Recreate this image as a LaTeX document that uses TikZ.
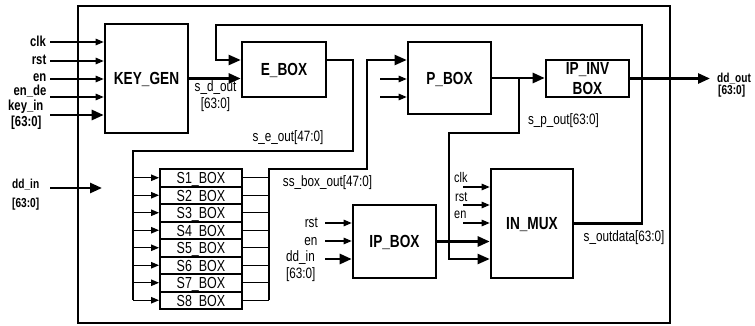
\documentclass[tikz,border=0pt]{standalone}
\usepackage{fontspec}
\setmainfont{Liberation Sans}[FakeStretch=0.78]
\usetikzlibrary{arrows.meta}
\tikzset{
  blk/.style={draw, line width=2.6pt, inner sep=0pt, font=\fontsize{17.5}{19.5}\selectfont\bfseries, text height=12.5pt, text depth=0pt},
  sbox/.style={draw, line width=2pt, minimum width=82pt, minimum height=17.5pt, inner sep=0pt, font=\fontsize{16}{18}\selectfont, text height=11.5pt, text depth=0pt},
  sarr/.style={line width=1.1pt, -{Triangle[length=8pt,width=6.5pt]}},
  tarr/.style={line width=2.6pt, -{Triangle[length=12pt,width=10pt]}},
  marr/.style={line width=2.1pt, -{Triangle[length=12pt,width=10pt]}},
  wire/.style={line width=2.1pt},
  twire/.style={line width=1.1pt},
  plbl/.style={font=\fontsize{14.5}{16}\selectfont\bfseries, inner sep=0pt},
  olbl/.style={font=\fontsize{13}{15}\selectfont\bfseries, inner sep=0pt},
  slbl/.style={font=\fontsize{15}{17}\selectfont, inner sep=0pt},
  mlbl/.style={font=\fontsize{14}{16}\selectfont, inner sep=0pt},
}
\begin{document}
\begin{tikzpicture}[x=1pt,y=-1pt]
\useasboundingbox (0,0) rectangle (755,326);
% outer frame
\node[draw, line width=2.2pt, minimum width=592pt, minimum height=317pt, inner sep=0pt] (outer) at (374,164.5) {};
% blocks
\node[blk, minimum width=83pt, minimum height=109pt] (kg) at (146.5,78.5) {KEY\_GEN};
\node[blk, minimum width=84pt, minimum height=55pt] (eb) at (284,69.5) {E\_BOX};
\node[blk, minimum width=83pt, minimum height=72pt] (pb) at (449.5,78) {P\_BOX};
\node[draw, line width=2.6pt, inner sep=0pt, minimum width=83pt, minimum height=37pt, align=center, font=\fontsize{17.5}{19.5}\selectfont\bfseries] (ipinv) at (587.5,78.5) {IP\_INV\\BOX};
\node[blk, minimum width=82pt, minimum height=109pt] (im) at (532,223.5) {IN\_MUX};
\node[blk, minimum width=83pt, minimum height=73pt] (ip) at (394.5,241.5) {IP\_BOX};
\foreach \i in {1,...,8} {
  \node[sbox] (s\i) at (201,{169+17.5*(\i-0.5)}) {S\i\_BOX};
}
% KEY_GEN inputs
\foreach \n/\y in {clk/42, rst/61, en/79, ende/97} {
  \coordinate (k\n) at (50,\y);
  \draw[sarr] (k\n) -- (k\n -| kg.west);
}
\coordinate (kkey) at (50,115);
\draw[tarr] (kkey) -- (kkey -| kg.west);
\node[plbl, anchor=base east] (lclk) at (46,46.5) {clk};
\node[plbl, anchor=base east] (lrst) at (46.5,64.5) {rst};
\node[plbl, anchor=base east] (len) at (46.5,82) {en};
\node[plbl, anchor=base east] (lende) at (46.5,95.5) {en\_de};
\node[plbl, anchor=base west] (lkey) at (8,110.5) {key\_in};
\node[plbl, anchor=base west] (lkeyb) at (11,126.5) {[63:0]};
% s_d_out
\draw[tarr] (kg.east) -- (kg.east -| eb.west);
\node[slbl, anchor=base] (lsd) at (215.5,92) {s\_d\_out};
\node[slbl, anchor=base] (lsdb) at (215.5,109) {[63:0]};
% feedback s_outdata
\coordinate (fbr) at (642,25);
\coordinate (fbl) at (216,25);
\draw[marr] (im.east) -| (fbr) -- (fbl) |- ([yshift=9.5pt]eb.west);
\node[slbl, anchor=base] (lout) at (624,241) {s\_outdata[63:0]};
% E_BOX output to S boxes
\coordinate (eo1) at (353,151);
\coordinate (eo2) at (133,151);
\draw[wire] ([yshift=9.5pt]eb.east) -| (eo1) -- (eo2) -- (eo2 |- s8.west);
\foreach \i in {1,...,8} {
  \draw[sarr] (eo2 |- s\i.west) -- (s\i.west);
}
\node[slbl, anchor=base] (lse) at (288,142) {s\_e\_out[47:0]};
% S box outputs
\coordinate (so) at (269,169);
\foreach \i in {1,...,8} {
  \draw[twire] (s\i.east) -- (so |- s\i.east);
}
\coordinate (ss) at (367,169);
\draw[marr] (so |- s8.east) -- (so) -- (ss) |- ([yshift=18pt]pb.west);
\node[slbl, anchor=base] (lss) at (327.5,186) {ss\_box\_out[47:0]};
% P_BOX thin inputs
\coordinate (p2) at (380,79);
\coordinate (p3) at (380,97);
\draw[sarr] (p2) -- (p2 -| pb.west);
\draw[sarr] (p3) -- (p3 -| pb.west);
% P_BOX to IP_INV
\draw[tarr] (pb.east) -- (pb.east -| ipinv.west);
\coordinate (pj) at (519,78);
\coordinate (pd) at (449,133);
\draw[marr] (pj) |- (pd) |- ([yshift=-35.5pt]im.west);
\node[slbl, anchor=base] (lsp) at (563.5,125) {s\_p\_out[63:0]};
% output
\coordinate (ddo) at (710,78.5);
\draw[tarr] (ipinv.east) -- (ddo);
\node[olbl, anchor=base west] (ldo) at (717,83) {dd\_out};
\node[olbl, anchor=base west] (ldob) at (718,95) {[63:0]};
% IP_BOX inputs
\coordinate (ir) at (325,223);
\coordinate (ie) at (325,241);
\coordinate (id) at (325,259);
\draw[sarr] (ir) -- (ir -| ip.west);
\draw[sarr] (ie) -- (ie -| ip.west);
\draw[tarr] (id) -- (id -| ip.west);
\node[slbl, anchor=base east] (lir) at (318,227.5) {rst};
\node[slbl, anchor=base east] (lie) at (317.5,245) {en};
\node[slbl, anchor=base west] (lid) at (286,261) {dd\_in};
\node[slbl, anchor=base west] (lidb) at (286,278.5) {[63:0]};
% IP_BOX to IN_MUX
\draw[tarr] (ip.east) -- (ip.east -| im.west);
% IN_MUX thin inputs
\coordinate (mc) at (463,187);
\coordinate (mr) at (463,205);
\coordinate (me) at (463,223);
\draw[sarr] (mc) -- (mc -| im.west);
\draw[sarr] (mr) -- (mr -| im.west);
\draw[sarr] (me) -- (me -| im.west);
\node[mlbl, anchor=base west] (lmc) at (454,182.5) {clk};
\node[mlbl, anchor=base west] (lmr) at (455,201) {rst};
\node[mlbl, anchor=base west] (lme) at (454,218) {en};
% dd_in outer
\coordinate (ddi) at (50,188);
\coordinate (ddie) at (102,188);
\draw[tarr] (ddi) -- (ddie);
\node[olbl, anchor=base west] (ldi) at (12,188) {dd\_in};
\node[olbl, anchor=base west] (ldib) at (12,207) {[63:0]};
\end{tikzpicture}
\end{document}
